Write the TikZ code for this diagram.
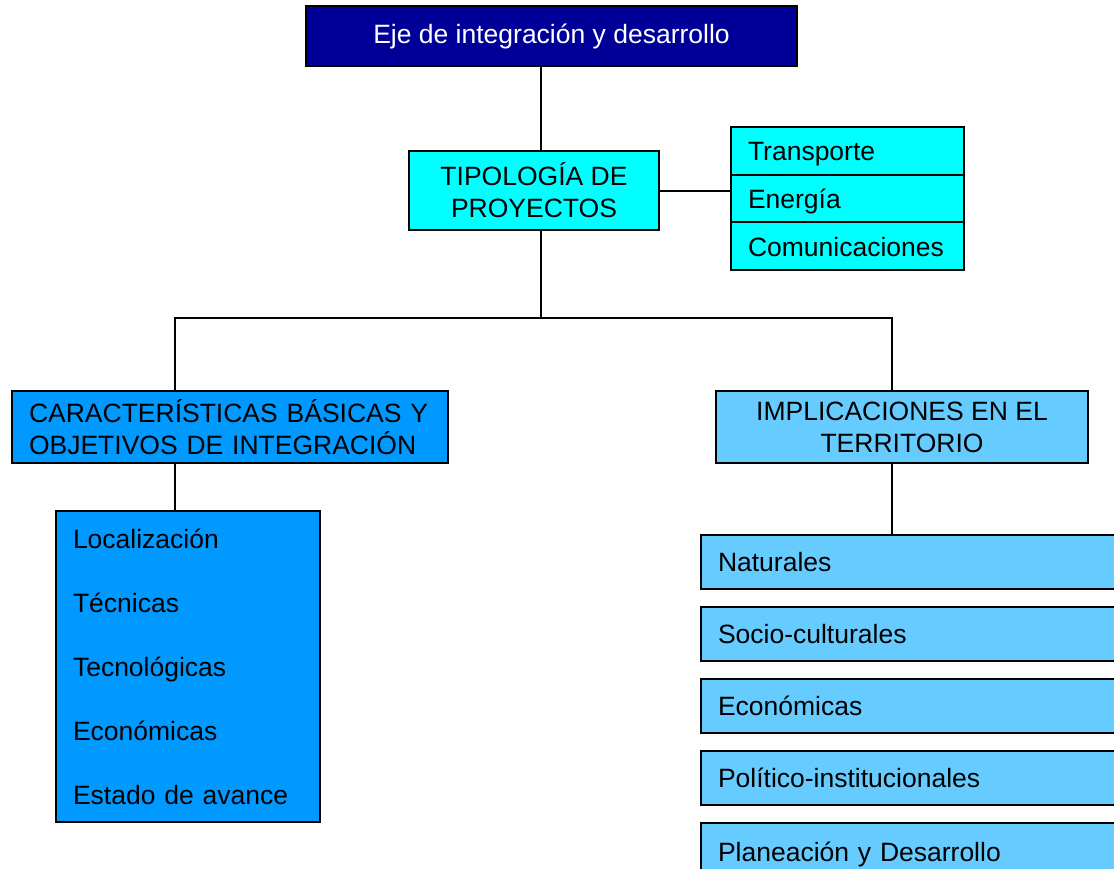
\documentclass[tikz,border=0pt]{standalone}
\usepackage{fontspec}
\setmainfont{Liberation Sans}
\usetikzlibrary{positioning}

\definecolor{navybox}{RGB}{0,0,153}
\definecolor{cyanbox}{RGB}{0,255,255}
\definecolor{bluebox}{RGB}{0,153,255}
\definecolor{skybox}{RGB}{102,204,255}

\begin{document}
\begin{tikzpicture}[
  x=1pt, y=-1pt,
  every node/.style={
    draw,
    rectangle,
    line width=2pt,
    inner sep=0pt,
    outer sep=0pt,
    anchor=north west,
    font=\fontsize{26.5}{32}\selectfont,
  },
  link/.style={
    draw,
    line width=2pt,
  },
  title/.style={fill=navybox, text=white, minimum width=491pt, minimum height=60pt},
  typology/.style={fill=cyanbox, align=center, minimum width=250pt, minimum height=79pt},
  sector/.style={fill=cyanbox, inner xsep=17pt, text width=199pt, align=left, minimum height=47.7pt,
    text height=22pt, text depth=2pt},
  basics/.style={fill=bluebox, inner xsep=17pt, align=left},
  impact/.style={fill=skybox, inner xsep=17pt, text width=466pt, align=left, minimum height=54pt},
]

\useasboundingbox (0,0) rectangle (1114,868);
\clip (0,0) rectangle (1114,868);

% Top of the chart
\node[title] (eje) at (306,6) {Eje de integración y desarrollo};
\node[typology] (tipo) at (409,151) {TIPOLOGÍA DE\\PROYECTOS};

% Project types
\node[sector] (trans) at (731,127) {Transporte};
\node[sector, below=0pt of trans] (ener) {Energía};
\node[sector, below=0pt of ener] (comu) {Comunicaciones};

% Left branch
\node[basics, text width=402pt, minimum height=72pt] (carac) at (12,391)
  {CARACTERÍSTICAS BÁSICAS Y\\OBJETIVOS DE INTEGRACIÓN};
\node[basics, text width=230pt, minimum height=311pt,
  font=\fontsize{26.5}{64}\selectfont] (lista) at (56,511)
  {Localización\\Técnicas\\Tecnológicas\\Económicas\\Estado de avance};

% Right branch
\node[fill=skybox, align=center, minimum width=372pt, minimum height=72pt] (impl) at (716,391)
  {IMPLICACIONES EN EL\\TERRITORIO};
\node[impact] (natu) at (701,535) {Naturales};
\node[impact, below=18pt of natu] (socio) {Socio-culturales};
\node[impact, below=18pt of socio] (econ) {Económicas};
\node[impact, below=18pt of econ] (poli) {Político-institucionales};
\node[impact, below=18pt of poli, minimum height=62pt] (plan) {Planeación y Desarrollo};

% Connectors
\coordinate (fork) at (541,318);
\coordinate (lbranch) at (175,318);
\coordinate (rbranch) at (892,318);

\path[link] (fork |- eje.south) -- (fork |- tipo.north);
\path[link] (fork |- tipo.south) -- (fork);
\path[link] (tipo.east) -- (tipo.east -| ener.west);
\path[link] (lbranch |- carac.north) -- (lbranch) -- (rbranch) -- (rbranch |- impl.north);
\path[link] (lbranch |- carac.south) -- (lbranch |- lista.north);
\path[link] (rbranch |- impl.south) -- (rbranch |- natu.north);

\end{tikzpicture}
\end{document}
